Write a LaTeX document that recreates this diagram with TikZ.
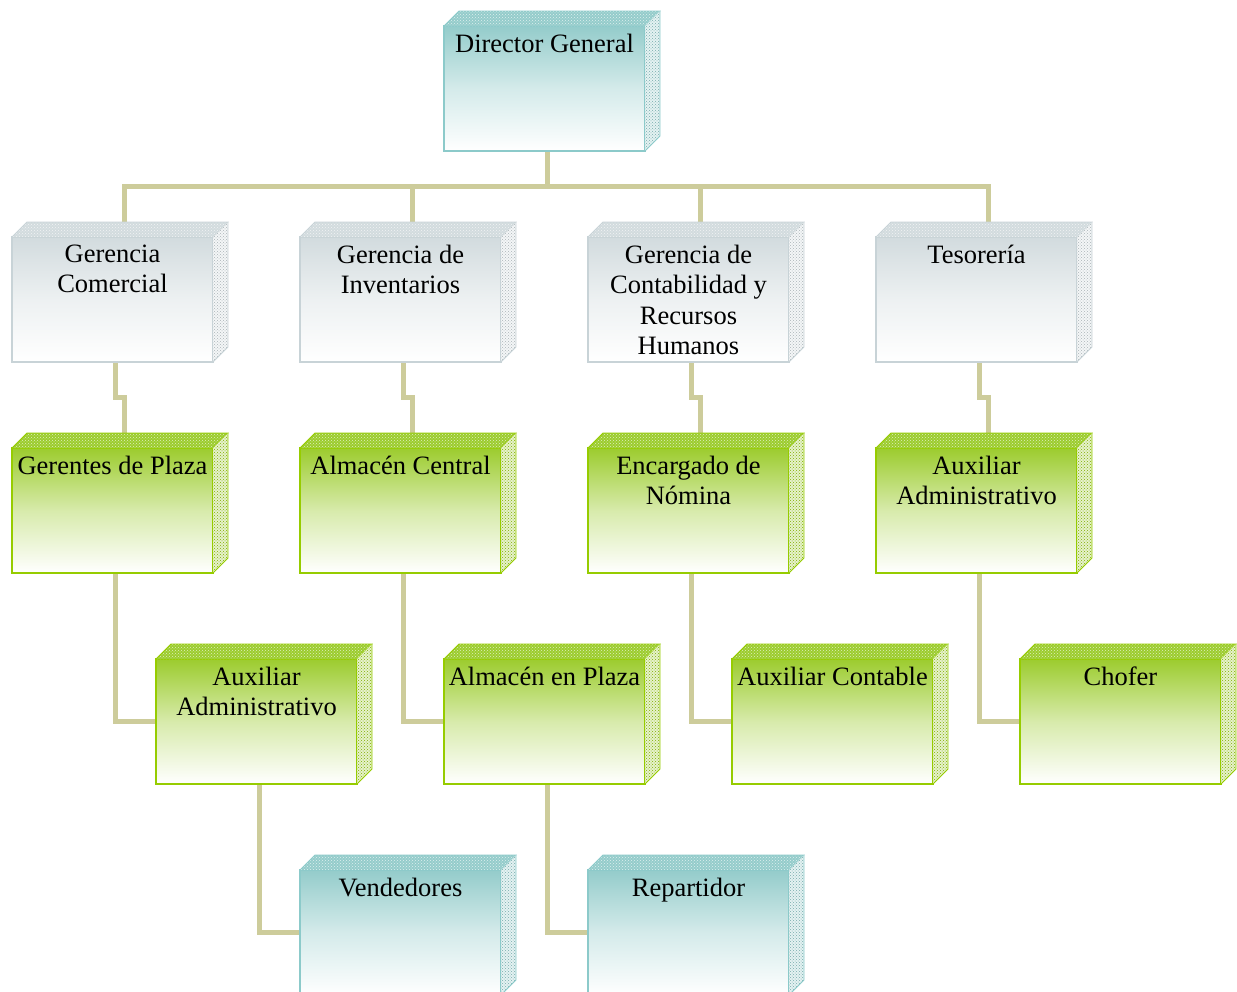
\documentclass[tikz,border=0pt]{standalone}
\usepackage{fontspec}
\setmainfont{Liberation Serif}
\usetikzlibrary{patterns}
\definecolor{tealtop}{RGB}{148,204,203}
\definecolor{tealline}{RGB}{140,202,202}
\definecolor{graytop}{RGB}{210,219,222}
\definecolor{grayline}{RGB}{200,211,215}
\definecolor{greentop}{RGB}{156,204,46}
\definecolor{greenline}{RGB}{150,204,0}
\definecolor{conn}{RGB}{205,204,155}
\pgfdeclarelayer{back}
\pgfsetlayers{back,main}
\tikzset{
  front/.style={rectangle, minimum width=201pt, minimum height=125pt,
    inner sep=0pt, outer sep=0pt, line width=1.5pt},
  boxtext/.style={inner sep=0pt, align=center, font=\fontsize{26.5}{30.5}\selectfont},
  link/.style={draw=conn, line width=5pt}
}
% #1 name, #2 left x, #3 top y of the front face, #4 colour family, #5 label
\newcommand\orgbox[5]{%
  \node[front, draw=#4line, top color=#4top, bottom color=white,
        middle color=#4top!40, anchor=north west] (#1) at (#2,#3) {};
  \fill[#4top] (#1.north west) -- ++(15,-15) -- ++(201,0) -- ++(-15,15) -- cycle;
  \fill[pattern=crosshatch dots, pattern color=white!70!#4top]
    (#1.north west) -- ++(15,-15) -- ++(201,0) -- ++(-15,15) -- cycle;
  \draw[#4line, line width=0.8pt]
    (#1.north west) -- ++(15,-15) -- ++(201,0) -- ++(-15,15);
  \fill[white!75!#4top] (#1.north east) -- ++(15,-15) -- ++(0,125) -- ++(-15,15) -- cycle;
  \fill[pattern=crosshatch dots, pattern color=#4line!85!black]
    (#1.north east) -- ++(15,-15) -- ++(0,125) -- ++(-15,15) -- cycle;
  \draw[#4line, line width=0.8pt]
    (#1.north east) ++(15,-15) -- ++(0,125) -- ++(-15,15);
  \node[boxtext, anchor=north] (#1-label) at ([yshift=-7.5pt]#1.north) {#5};
}
\begin{document}
\begin{tikzpicture}[x=1pt, y=-1pt]
\useasboundingbox (0,0) rectangle (1237,991);
\clip (0,0) rectangle (1237,991);

% top
\orgbox{dg}{444}{26}{teal}{Director General}
% managers
\orgbox{gc}{12}{237}{gray}{Gerencia\\Comercial}
\orgbox{gi}{300}{237}{gray}{Gerencia de\\Inventarios}
\orgbox{gcr}{588}{237}{gray}{Gerencia de\\Contabilidad y\\Recursos\\Humanos}
\orgbox{te}{876}{237}{gray}{Tesorería}
% third level
\orgbox{gp}{12}{448}{green}{Gerentes de Plaza}
\orgbox{ac}{300}{448}{green}{Almacén Central}
\orgbox{en}{588}{448}{green}{Encargado de\\Nómina}
\orgbox{ax}{876}{448}{green}{Auxiliar\\Administrativo}
% fourth level
\orgbox{aa}{156}{659}{green}{Auxiliar\\Administrativo}
\orgbox{ap}{444}{659}{green}{Almacén en Plaza}
\orgbox{at}{732}{659}{green}{Auxiliar Contable}
\orgbox{ch}{1020}{659}{green}{Chofer}
% fifth level
\orgbox{ve}{300}{870}{teal}{Vendedores}
\orgbox{re}{588}{870}{teal}{Repartidor}

\begin{pgfonlayer}{back}
  \foreach \c in {gc,gi,gcr,te}
    \draw[link] ([xshift=2.5pt]dg.south) -- ++(0,35) -| ([xshift=11.5pt]\c.north);
  \foreach \a/\b in {gc/gp,gi/ac,gcr/en,te/ax}
    \draw[link] ([xshift=2.5pt]\a.south) -- ++(0,35) -| ([xshift=11.5pt]\b.north);
  \foreach \a/\b in {gp/aa,ac/ap,en/at,ax/ch,aa/ve,ap/re}
    \draw[link] ([xshift=2.5pt]\a.south) |- (\b.west);
\end{pgfonlayer}
\end{tikzpicture}
\end{document}
